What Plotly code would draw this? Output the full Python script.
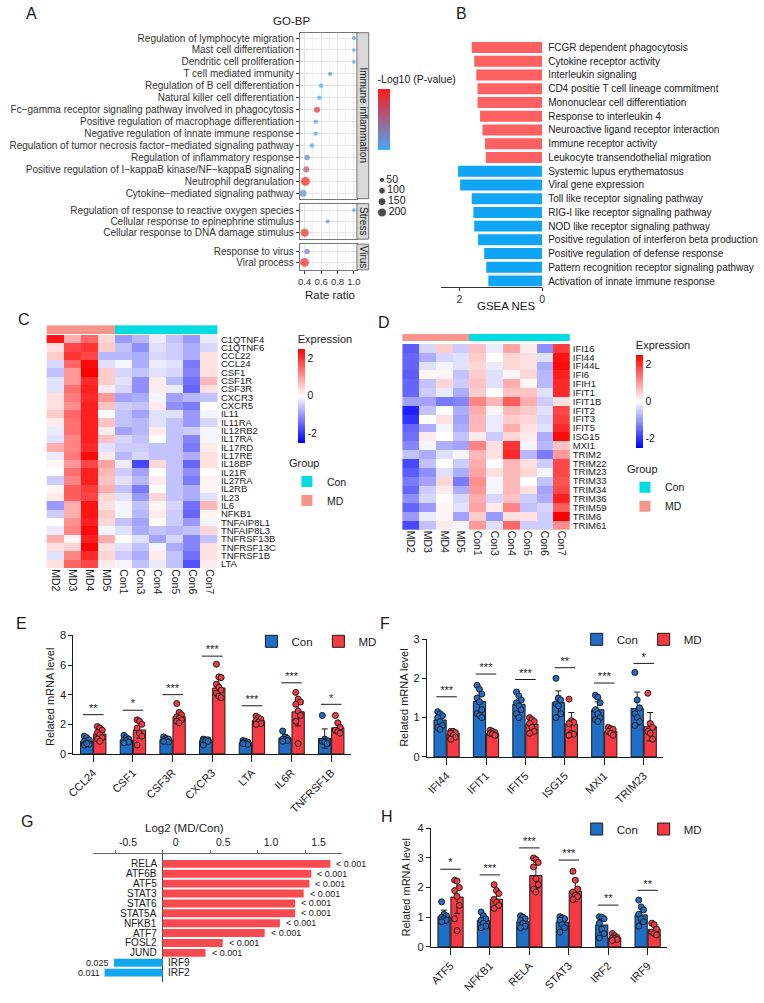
import plotly.graph_objects as go
import numpy as np

W, H = 764, 1003
FONT = "Liberation Sans, Arial, Helvetica, sans-serif"
INK = "#1a1a1a"


def xd(a, b):
    return [a / W, b / W]


def yd(top, bottom):
    return [1 - bottom / H, 1 - top / H]


def px(x):
    return x / W


def py(y):
    return 1 - y / H


# ======================= DATA =======================
# ---- A : GO-BP dot plot ----
a_terms = [
    "Regulation of lymphocyte migration",
    "Mast cell differentiation",
    "Dendritic cell proliferation",
    "T cell mediated immunity",
    "Regulation of B cell differentiation",
    "Natural killer cell differentiation",
    "Fc\u2212gamma receptor signaling pathway involved in phagocytosis",
    "Positive regulation of macrophage differentiation",
    "Negative regulation of innate immune response",
    "Regulation of tumor necrosis factor\u2212mediated signaling pathway",
    "Regulation of inflammatory response",
    "Positive regulation of I\u2212kappaB kinase/NF\u2212kappaB signaling",
    "Neutrophil degranulation",
    "Cytokine\u2212mediated signaling pathway",
    "Regulation of response to reactive oxygen species",
    "Cellular response to epinephrine stimulus",
    "Cellular response to DNA damage stimulus",
    "Response to virus",
    "Viral process",
]
a_group = ["Immune inflammation"] * 14 + ["Stress"] * 3 + ["Virus"] * 2
a_ratio = [1.0, 1.0, 1.0, 0.71, 0.60, 0.58, 0.55, 0.535, 0.535, 0.49, 0.43, 0.42, 0.41, 0.38,
           1.0, 0.68, 0.40, 0.43, 0.40]
a_logp = [2.6, 2.1, 2.1, 2.4, 1.5, 1.65, 8.25, 1.5, 1.5, 1.9, 3.15, 6.0, 9.0, 3.0,
          2.25, 2.85, 8.1, 3.6, 8.6]
a_count = [20, 18, 18, 28, 30, 30, 75, 30, 30, 35, 60, 75, 190, 110,
           15, 22, 150, 60, 190]
a_size_legend = [50, 100, 150, 200]

# ---- B : GSEA NES ----
b_terms = [
    "FCGR dependent phagocytosis",
    "Cytokine receptor activity",
    "Interleukin signaling",
    "CD4 positie T cell lineage commitment",
    "Mononuclear cell differentiation",
    "Response to interleukin 4",
    "Neuroactive ligand receptor interaction",
    "Immune receptor activity",
    "Leukocyte transendothelial migration",
    "Systemic lupus erythematosus",
    "Viral gene expression",
    "Toll like receptor signaling pathway",
    "RIG-I like receptor signaling pathway",
    "NOD like receptor signaling pathway",
    "Positive regulation of interferon beta production",
    "Positive regulation of defense response",
    "Pattern recognition receptor signaling pathway",
    "Activation of innate immune response",
]
b_nes = [1.70, 1.64, 1.59, 1.56, 1.56, 1.50, 1.44, 1.38, 1.36,
         2.03, 1.98, 1.70, 1.66, 1.64, 1.55, 1.40, 1.35, 1.30]
b_dir = ["up"] * 9 + ["down"] * 9

# ---- C / D : heatmaps ----
samples = ["MD2", "MD3", "MD4", "MD5", "Con1", "Con3", "Con4", "Con5", "Con6", "Con7"]
c_genes = ["C1QTNF4", "C1QTNF6", "CCL22", "CCL24", "CSF1", "CSF1R", "CSF3R", "CXCR3", "CXCR5",
           "IL11", "IL11RA", "IL12RB2", "IL17RA", "IL17RD", "IL17RE", "IL18BP", "IL21R", "IL27RA",
           "IL2RB", "IL23", "IL6", "NFKB1", "TNFAIP8L1", "TNFAIP8L3", "TNFRSF13B", "TNFRSF13C",
           "TNFRSF1B", "LTA"]
c_z = [
    [2.3, 0.8, 1.5, 0.4, -1.0, -0.7, -0.2, -0.6, -1.0, -0.2],
    [0.3, 1.8, 2.0, 0.5, -0.6, -1.1, -0.3, -0.5, -0.8, -0.4],
    [0.5, 2.0, 1.8, -0.7, -0.7, -0.8, -0.4, -0.5, -0.8, 0.3],
    [-0.4, 1.5, 2.4, -0.3, -0.1, -0.8, -0.2, -0.3, -1.3, 0.3],
    [-0.6, 1.0, 2.5, 0.5, -0.4, -0.6, -0.3, -0.4, -1.2, 0.3],
    [-0.3, 1.0, 2.1, 0.5, -0.3, -1.1, 0.2, -0.7, -1.4, 0.7],
    [-0.3, 1.4, 2.2, 0.2, -0.4, -1.1, 0.2, -0.2, -1.5, 0.3],
    [0.3, 1.3, 2.1, 1.0, -0.9, -0.8, -0.1, -0.9, -0.7, -0.6],
    [0.3, 1.1, 2.2, 0.6, -0.5, -0.6, 0.2, -1.1, -1.3, 0.0],
    [0.5, 1.5, 2.2, 0.0, -0.6, -0.9, -0.3, -0.3, -1.0, -0.1],
    [0.2, 1.4, 2.2, 0.6, -0.6, -0.7, -0.3, -0.6, -1.0, -0.4],
    [-0.2, 1.4, 2.2, 0.2, -0.9, -0.7, 0.2, -0.6, -0.5, -0.1],
    [-0.3, 1.2, 2.2, 0.6, -0.4, -0.6, 0.0, -0.6, -1.2, -0.1],
    [0.8, 1.2, 2.1, -0.3, -0.5, -0.5, -0.6, -0.6, -1.3, 0.2],
    [-0.2, 1.3, 2.4, 0.2, -0.7, -0.4, -0.6, -0.6, -0.8, 0.3],
    [0.1, 1.0, 1.8, 0.9, -0.2, -1.8, 0.4, -0.6, -1.5, 0.3],
    [0.0, 1.4, 2.2, 0.7, -0.5, -0.9, 0.0, -0.6, -1.1, 0.0],
    [-0.5, 1.2, 2.2, 0.6, -0.3, -0.7, 0.2, -0.6, -1.3, 0.1],
    [0.1, 1.6, 1.9, 0.8, -0.6, -1.3, 0.0, -0.6, -0.8, 0.1],
    [0.2, 1.6, 1.8, 0.4, -0.3, -1.0, 0.4, -0.6, -0.8, -0.3],
    [-1.0, 0.8, 2.3, 0.3, -0.1, -0.6, 0.1, -0.4, -1.4, 0.7],
    [-0.5, 0.8, 2.3, 0.5, -0.1, -0.7, 0.2, -0.5, -1.5, 0.1],
    [0.0, 1.1, 2.2, 0.4, -0.6, -0.9, 0.0, -0.5, -1.0, -0.1],
    [-0.2, 1.2, 2.4, -0.1, -0.3, -0.8, -0.6, -0.7, -0.6, 0.4],
    [0.8, 0.1, 2.2, 0.8, 0.0, -0.3, -0.9, -0.4, -1.2, -0.6],
    [0.3, 0.4, 2.5, 0.3, -0.3, -0.6, -0.1, -0.8, -1.2, 0.3],
    [-0.3, 1.2, 2.1, 0.4, -0.5, -0.8, 0.2, -0.6, -1.4, 0.3],
    [0.3, 1.5, 1.8, 0.2, -0.1, -0.6, -0.2, -0.6, -1.7, 0.2],
]
d_genes = ["IFI16", "IFI44", "IFI44L", "IFI6", "IFIH1", "IFIT1", "IFIT1B", "IFIT2", "IFIT3",
           "IFIT5", "ISG15", "MXI1", "TRIM2", "TRIM22", "TRIM23", "TRIM33", "TRIM34", "TRIM36",
           "TRIM59", "TRIM6", "TRIM61"]
d_z = [
    [-1.6, -0.4, 0.5, -0.5, 0.6, -0.2, 0.9, 0.2, -1.1, 1.9],
    [-1.5, -0.8, -0.4, -0.3, 0.5, 0.0, 0.4, 0.3, -0.3, 2.3],
    [-1.5, -0.3, -0.1, -0.3, 0.4, -0.2, 0.4, 0.3, -0.8, 2.4],
    [-1.6, 0.1, 0.1, -0.6, 0.5, -0.3, 0.1, 0.4, -0.7, 2.2],
    [-1.5, -0.6, 0.4, -0.5, 0.6, -0.3, 0.8, 0.1, -0.7, 2.1],
    [-1.5, -0.5, -0.2, -0.8, 0.5, 0.0, 0.6, 0.6, -0.3, 2.1],
    [-0.9, -0.9, -1.3, -1.2, 1.2, 0.7, 1.6, 0.8, -0.5, 0.3],
    [-2.2, -0.6, 0.0, -0.8, 0.8, 0.1, 0.7, 0.5, -0.3, 1.8],
    [-2.0, 0.0, 0.3, -0.9, 0.7, -0.2, 0.5, 0.4, -0.4, 1.9],
    [-1.5, -0.8, -0.1, -0.8, 0.7, -0.2, 0.8, 0.3, -0.3, 2.1],
    [-1.4, 0.2, 0.0, -0.6, 0.2, -0.5, 0.4, 0.2, -0.8, 2.4],
    [-1.2, -0.1, -0.8, -0.9, 1.2, 0.3, 2.0, -0.1, -0.7, 0.6],
    [-0.6, -0.8, -0.3, -0.1, 0.7, 0.3, 2.1, -0.7, -1.3, 1.0],
    [-1.8, -0.6, 0.0, -0.5, 0.8, 0.0, 0.7, 0.3, -0.5, 1.8],
    [-1.6, -1.1, -0.3, -0.8, 0.9, 0.3, 0.7, 0.4, -0.1, 1.8],
    [-1.3, -0.9, 0.4, -1.3, 1.1, -0.1, 0.7, 0.0, -0.6, 1.7],
    [-1.5, -0.5, 0.2, -0.8, 1.0, -0.1, 0.7, 0.3, -0.9, 1.8],
    [-1.1, -0.4, 0.0, -0.4, 0.8, -0.4, 0.6, -0.5, -0.8, 2.2],
    [-1.5, -1.0, 0.1, -0.3, 0.9, 0.2, 1.2, -0.6, -0.4, 1.6],
    [-1.0, -0.2, 0.1, -0.9, 0.5, -1.0, 0.3, 0.3, -0.5, 2.5],
    [-1.8, -0.6, 0.2, -0.1, 1.0, -0.3, 1.5, -0.5, -0.5, 1.1],
]

# ---- E : qPCR cytokine genes ----
e_genes = ["CCL24", "CSF1", "CSF3R", "CXCR3", "LTA", "IL6R", "TNFRSF1B"]
e_con_mean = [0.87, 0.93, 0.96, 0.90, 0.76, 1.07, 1.04]
e_con_sd = [0.20, 0.15, 0.12, 0.10, 0.12, 0.22, 0.65]
e_md_mean = [1.35, 1.62, 2.51, 4.45, 2.24, 2.84, 1.76]
e_md_sd = [0.35, 0.55, 0.35, 0.70, 0.20, 0.95, 0.35]
e_con_pts = [[1.2, 1.1, 0.95, 0.85, 0.75, 0.65, 0.6, 0.7],
             [1.25, 1.1, 1.0, 0.95, 0.9, 0.8, 0.75],
             [1.15, 1.05, 1.0, 0.95, 0.9, 0.8, 0.85],
             [1.0, 0.95, 0.95, 0.9, 0.9, 0.85, 0.6],
             [0.9, 0.85, 0.8, 0.75, 0.7, 0.65, 0.7],
             [1.55, 1.15, 1.05, 1.0, 0.95, 0.9, 0.85],
             [2.6, 1.0, 0.9, 0.85, 0.8, 0.7]]
e_md_pts = [[1.85, 1.75, 1.6, 1.45, 1.3, 1.1, 1.0, 0.85],
            [2.3, 2.2, 2.0, 1.75, 1.4, 1.2, 0.6],
            [3.4, 2.8, 2.65, 2.5, 2.4, 2.3, 2.2, 2.1],
            [6.05, 5.2, 5.15, 4.7, 4.5, 4.3, 4.1, 3.9, 3.8],
            [2.55, 2.45, 2.35, 2.25, 2.15, 2.05, 2.0],
            [4.15, 3.7, 3.5, 3.35, 2.9, 2.6, 2.2, 0.7],
            [2.6, 2.1, 1.8, 1.6, 1.5, 1.4]]
e_sig = ["**", "*", "***", "***", "***", "***", "*"]
e_sig_y = [2.65, 2.95, 4.0, 6.6, 3.25, 4.8, 3.35]

# ---- F : qPCR interferon genes ----
f_genes = ["IFI44", "IFIT1", "IFIT5", "ISG15", "MXI1", "TRIM23"]
f_con_mean = [0.94, 1.41, 1.34, 1.38, 1.20, 1.23]
f_con_sd = [0.15, 0.30, 0.20, 0.30, 0.20, 0.42]
f_md_mean = [0.60, 0.60, 0.83, 0.83, 0.65, 0.77]
f_md_sd = [0.08, 0.05, 0.12, 0.30, 0.07, 0.36]
f_con_pts = [[1.15, 1.1, 1.05, 1.0, 0.9, 0.8, 0.75, 0.7],
             [1.82, 1.72, 1.6, 1.5, 1.4, 1.2, 1.1, 1.05, 1.0],
             [1.65, 1.55, 1.45, 1.38, 1.3, 1.2, 1.1, 1.0],
             [2.0, 1.5, 1.45, 1.35, 1.3, 1.1, 1.0],
             [1.57, 1.52, 1.38, 1.2, 1.1, 1.0, 0.95, 0.9],
             [2.15, 1.45, 1.25, 1.1, 1.0, 0.9, 0.8]]
f_md_pts = [[0.65, 0.65, 0.62, 0.6, 0.55, 0.5, 0.45],
            [0.68, 0.65, 0.62, 0.6, 0.58, 0.55],
            [1.0, 0.95, 0.9, 0.85, 0.75, 0.65, 0.6],
            [1.47, 0.92, 0.88, 0.85, 0.6, 0.58, 0.55],
            [0.75, 0.72, 0.7, 0.65, 0.6, 0.55],
            [1.62, 0.85, 0.75, 0.65, 0.6, 0.45]]
f_sig = ["***", "***", "***", "**", "***", "*"]
f_sig_y = [1.53, 2.11, 1.97, 2.27, 1.88, 2.38]

# ---- G : Log2 fold change of TFs ----
g_genes = ["RELA", "ATF6B", "ATF5", "STAT3", "STAT6", "STAT5A", "NFKB1", "ATF7", "FOSL2",
           "JUND", "IRF9", "IRF2"]
g_log2 = [1.76, 1.56, 1.54, 1.48, 1.39, 1.39, 1.23, 1.07, 0.63, 0.45, -0.51, -0.61]
g_p = ["< 0.001"] * 10 + ["0.025", "0.011"]

# ---- H : qPCR TFs ----
h_genes = ["ATF5", "NFKB1", "RELA", "STAT3", "IRF2", "IRF9"]
h_con_mean = [1.02, 0.89, 0.85, 0.84, 0.74, 1.08]
h_con_sd = [0.22, 0.15, 0.10, 0.12, 0.25, 0.25]
h_md_mean = [1.68, 1.61, 2.41, 1.88, 0.30, 0.59]
h_md_sd = [0.55, 0.30, 0.45, 0.35, 0.08, 0.15]
h_con_pts = [[1.52, 1.1, 1.05, 1.0, 0.95, 0.9, 0.85],
             [1.18, 1.05, 0.95, 0.9, 0.8, 0.7, 0.65],
             [1.05, 1.0, 0.95, 0.9, 0.8, 0.7, 0.65],
             [1.02, 0.98, 0.95, 0.9, 0.75, 0.65, 0.5],
             [1.02, 1.0, 0.95, 0.8, 0.6, 0.45, 0.3],
             [1.58, 1.35, 1.25, 1.1, 0.95, 0.85, 0.7]]
h_md_pts = [[2.25, 2.22, 2.0, 1.9, 1.7, 1.4, 0.95, 0.55],
            [2.1, 1.9, 1.8, 1.6, 1.5, 1.4, 1.3],
            [3.0, 2.95, 2.85, 2.7, 2.3, 2.1, 1.95, 1.85],
            [2.55, 2.25, 1.95, 1.85, 1.75, 1.7, 1.6],
            [0.45, 0.38, 0.32, 0.3, 0.28, 0.25, 0.22],
            [0.8, 0.75, 0.6, 0.5, 0.45, 0.4]]
h_sig = ["*", "***", "***", "***", "**", "**"]
h_sig_y = [2.62, 2.43, 3.34, 2.93, 1.41, 1.91]

# ======================= STYLE =======================
CON_C = "#1f6fc6"
MD_C = "#f73942"
GRP_COL = {"Con": "#00dce1", "MD": "#f9948b"}
HEAT_SCALE = [[0, "#0000ff"], [0.5, "#ffffff"], [1, "#ff0000"]]

fig = go.Figure()
layout = {}
annotations = []
shapes = []

# ======================= PANEL A =======================
facets = ["Immune inflammation", "Stress", "Virus"]
facet_dom = {"Immune inflammation": (27, 195, [13.45, -0.45]),
             "Stress": (200, 236, [2.58, -0.58]),
             "Virus": (241, 267, [1.68, -0.68])}


def dot_size(c):
    return 1.5 + 0.53 * np.sqrt(c)


for k, f in enumerate(facets):
    ids = [i for i, g in enumerate(a_group) if g == f]
    terms = [a_terms[i] for i in ids]
    n = k + 1
    fig.add_trace(go.Scatter(
        x=[a_ratio[i] for i in ids], y=terms, mode="markers",
        marker=dict(size=[dot_size(a_count[i]) for i in ids],
                    color=[a_logp[i] for i in ids], coloraxis="coloraxis",
                    line=dict(width=0)),
        xaxis=f"x{n}", yaxis=f"y{n}", showlegend=False, hoverinfo="skip"))
    top, bot, rng = facet_dom[f]
    layout[f"xaxis{n}"] = dict(
        domain=xd(297, 355), range=[0.34, 1.036], anchor=f"y{n}",
        tickvals=[0.4, 0.6, 0.8, 1.0], ticktext=["0.4", "0.6", "0.8", "1.0"], tickangle=0,
        showticklabels=(f == "Virus"), ticks="outside" if f == "Virus" else "",
        ticklen=3, tickcolor="#333", tickfont=dict(size=9.5, color="#333"),
        showgrid=True, gridcolor="#e6e6e6", gridwidth=0.8,
        minor=dict(tickvals=[0.5, 0.7, 0.9], showgrid=True, gridcolor="#f3f3f3", gridwidth=0.5),
        showline=True, mirror=True, linecolor="#777", linewidth=0.8, zeroline=False)
    layout[f"yaxis{n}"] = dict(
        domain=yd(top, bot), anchor=f"x{n}", type="category",
        categoryorder="array", categoryarray=terms, range=rng,
        tickmode="array", tickvals=terms, ticktext=terms,
        ticks="outside", ticklen=3, tickcolor="#333", tickfont=dict(size=10, color="#333"),
        showgrid=True, gridcolor="#e6e6e6", gridwidth=0.8,
        showline=True, mirror=True, linecolor="#777", linewidth=0.8)
    shapes.append(dict(type="rect", xref="paper", yref="paper", x0=px(355), x1=px(367),
                       y0=py(bot), y1=py(top), fillcolor="#d9d9d9",
                       line=dict(color="#555", width=0.8)))
    annotations.append(dict(text=f, x=px(361.5), y=py((top + bot) / 2), xref="paper", yref="paper",
                            showarrow=False, textangle=90, font=dict(size=10, color=INK)))

layout["coloraxis"] = dict(
    colorscale=[[0, "#45a8f7"], [1, "#ff1a1a"]], cmin=1.5, cmax=9,
    colorbar=dict(x=px(376), xanchor="left", y=py(146), yanchor="bottom", len=79 / H,
                  lenmode="fraction", thickness=12, xpad=0, ypad=0, outlinewidth=0,
                  showticklabels=False, ticks="",
                  title=dict(text="-Log10 (P-value)", side="top", font=dict(size=10.5, color=INK))))

# size legend
fig.add_trace(go.Scatter(
    x=[0] * len(a_size_legend), y=[str(s) for s in a_size_legend], mode="markers+text",
    text=[str(s) for s in a_size_legend], textposition="middle right",
    textfont=dict(size=10.5, color=INK),
    marker=dict(size=[dot_size(s) for s in a_size_legend], color="black"),
    xaxis="x4", yaxis="y4", showlegend=False, hoverinfo="skip", cliponaxis=False))
layout["xaxis4"] = dict(domain=xd(378, 398), range=[-0.5, 3.5], visible=False, anchor="y4")
layout["yaxis4"] = dict(domain=yd(170.5, 214.5), range=[3.5, -0.5], visible=False, anchor="x4",
                        type="category")

annotations += [
    dict(text="GO-BP", x=px(289), y=py(15), font=dict(size=11.5, color=INK)),
    dict(text="Rate ratio", x=px(328), y=py(292), font=dict(size=11.5, color=INK)),
]

# ======================= PANEL B =======================
fig.add_trace(go.Bar(
    x=b_nes, y=b_terms, orientation="h", width=0.8,
    marker=dict(color=["#ff6163" if d == "up" else "#10a5f5" for d in b_dir], line=dict(width=0)),
    xaxis="x5", yaxis="y5", showlegend=False, hoverinfo="skip"))
layout["xaxis5"] = dict(domain=xd(440, 543), range=[2.45, 0], anchor="y5",
                        tickvals=[2, 0], ticks="outside", ticklen=3, tickcolor="#333",
                        tickfont=dict(size=10.5, color="#333"), showline=True, linecolor="#333",
                        linewidth=0.8, showgrid=False, zeroline=False)
layout["yaxis5"] = dict(domain=yd(35, 284), range=[17.4, -0.5], anchor="x5", side="right",
                        type="category", categoryorder="array", categoryarray=b_terms,
                        tickmode="array", tickvals=b_terms, ticktext=b_terms,
                        ticks="", tickfont=dict(size=10, color=INK), showgrid=False,
                        showline=False, ticklabelstandoff=5)
annotations.append(dict(text="GSEA NES", x=px(506), y=py(304), font=dict(size=11.5, color=INK)))

# ======================= PANELS C & D =======================
groups = ["MD" if s.startswith("MD") else "Con" for s in samples]
grp_code = [1 if g == "MD" else 0 for g in groups]


def heat_panel(nh, nb, genes, z, xdom, ydom_heat, ydom_bar, cax, leg):
    fig.add_trace(go.Heatmap(z=z, x=samples, y=genes, coloraxis=cax,
                             xaxis=f"x{nh}", yaxis=f"y{nh}", hoverinfo="skip"))
    fig.add_trace(go.Heatmap(z=[grp_code], x=samples, y=["Group"],
                             colorscale=[[0, GRP_COL["Con"]], [1, GRP_COL["MD"]]],
                             zmin=0, zmax=1, showscale=False,
                             xaxis=f"x{nb}", yaxis=f"y{nb}", hoverinfo="skip"))
    for g in ["Con", "MD"]:
        fig.add_trace(go.Scatter(x=[None], y=[None], mode="markers", name=g,
                                 marker=dict(symbol="square", size=11, color=GRP_COL[g]),
                                 xaxis=f"x{nb}", yaxis=f"y{nb}", legend=leg, showlegend=True))
    layout[f"xaxis{nh}"] = dict(domain=xdom, anchor=f"y{nh}", tickangle=90, ticks="",
                                tickmode="array", tickvals=samples, ticktext=samples,
                                tickfont=dict(size=10.5, color=INK), showgrid=False,
                                showline=False, zeroline=False)
    layout[f"yaxis{nh}"] = dict(domain=ydom_heat, anchor=f"x{nh}", side="right",
                                autorange="reversed", ticks="",
                                tickmode="array", tickvals=genes, ticktext=genes,
                                tickfont=dict(size=9.5, color=INK),
                                showgrid=False, ticklabelstandoff=2)
    layout[f"xaxis{nb}"] = dict(domain=xdom, anchor=f"y{nb}", matches=f"x{nh}", visible=False)
    layout[f"yaxis{nb}"] = dict(domain=ydom_bar, anchor=f"x{nb}", visible=False)


heat_panel(6, 7, c_genes, c_z, xd(40, 214), yd(333, 569), yd(323, 332), "coloraxis2", "legend")
heat_panel(8, 9, d_genes, d_z, xd(401, 571), yd(342, 530), yd(332, 339), "coloraxis3", "legend2")

for name, x0, ytop, ybot in [("coloraxis2", 295, 351, 442), ("coloraxis3", 638, 357, 447)]:
    layout[name] = dict(
        colorscale=HEAT_SCALE, cmin=-2.5, cmax=2.5,
        colorbar=dict(x=px(x0), xanchor="left", y=py(ybot), yanchor="bottom",
                      len=(ybot - ytop + 21) / H, lenmode="fraction", thickness=7, xpad=0, ypad=0,
                      outlinewidth=0, tickvals=[-2, 0, 2], ticktext=["-2", "0", "2"], ticks="",
                      tickfont=dict(size=10.5, color=INK),
                      title=dict(text="Expression", side="top", font=dict(size=11, color=INK))))

for leg, x0, y0 in [("legend", 284, 452), ("legend2", 627, 458)]:
    layout[leg] = dict(x=px(x0), y=py(y0), xanchor="left", yanchor="top",
                       bgcolor="rgba(0,0,0,0)", font=dict(size=10.5, color=INK),
                       title=dict(text="Group", font=dict(size=11, color=INK)),
                       tracegroupgap=0, itemwidth=30)

# ======================= BAR PANELS E / F / H =======================
OFF, BW = 0.165, 0.31
SPREAD = [-0.06, 0.0, 0.06]


def bar_panel(n, genes, con_mean, con_sd, md_mean, md_sd, con_pts, md_pts, sig, sig_y, leg,
              xdom, ydom, yrng, ytick, leg_xy):
    xa, ya = f"x{n}", f"y{n}"
    idx = np.arange(len(genes))
    specs = [("Con", con_mean, con_sd, con_pts, CON_C, -1),
             ("MD", md_mean, md_sd, md_pts, MD_C, 1)]
    for name, mean, sd, pts, col, sgn in specs:
        fig.add_trace(go.Bar(
            x=idx + sgn * OFF, y=mean, width=BW, name=name,
            marker=dict(color=col, line=dict(color=INK, width=1)),
            error_y=dict(type="data", array=sd, visible=True, color=INK, thickness=1, width=3),
            xaxis=xa, yaxis=ya, legend=leg, showlegend=True, hoverinfo="skip"))
    for name, mean, sd, pts, col, sgn in specs:
        dx, dy = [], []
        for i, p in enumerate(pts):
            for j, v in enumerate(p):
                dx.append(i + sgn * OFF + SPREAD[j % 3])
                dy.append(v)
        fig.add_trace(go.Scatter(x=dx, y=dy, mode="markers",
                                 marker=dict(size=6, color=col, line=dict(color=INK, width=1)),
                                 xaxis=xa, yaxis=ya, showlegend=False, hoverinfo="skip",
                                 cliponaxis=False))
    lx, ly = [], []
    for i, h in enumerate(sig_y):
        lx += [i - 0.26, i + 0.26, None]
        ly += [h, h, None]
    fig.add_trace(go.Scatter(x=lx, y=ly, mode="lines", line=dict(color=INK, width=1),
                             xaxis=xa, yaxis=ya, showlegend=False, hoverinfo="skip",
                             cliponaxis=False))
    fig.add_trace(go.Scatter(x=idx, y=sig_y, mode="text", text=sig, textposition="top center",
                             textfont=dict(size=11, color=INK), xaxis=xa, yaxis=ya,
                             showlegend=False, hoverinfo="skip", cliponaxis=False))
    layout[f"xaxis{n}"] = dict(domain=xdom, range=[-0.5, len(genes) - 0.5], anchor=ya,
                               tickvals=list(idx), ticktext=genes, tickangle=-45,
                               ticks="outside", ticklen=7, tickwidth=1, tickcolor=INK,
                               tickfont=dict(size=11, color=INK), showline=True,
                               linecolor=INK, linewidth=1.2, showgrid=False, zeroline=False)
    layout[f"yaxis{n}"] = dict(domain=ydom, range=yrng, anchor=xa, dtick=ytick,
                               ticks="outside", ticklen=4, tickwidth=1.2, tickcolor=INK,
                               tickfont=dict(size=11, color=INK), showline=True,
                               linecolor=INK, linewidth=1.2, showgrid=False, zeroline=False)
    layout[leg] = dict(orientation="h", x=px(leg_xy[0]), y=py(leg_xy[1]), xanchor="left",
                       yanchor="middle", bgcolor="rgba(0,0,0,0)", font=dict(size=11.5, color=INK),
                       itemwidth=30, traceorder="normal", entrywidth=22, entrywidthmode="pixels")


bar_panel(10, e_genes, e_con_mean, e_con_sd, e_md_mean, e_md_sd, e_con_pts, e_md_pts, e_sig,
          e_sig_y, "legend3", xd(67.4, 349.1), yd(637, 757), [0, 8], 2, (248, 643))
bar_panel(11, f_genes, f_con_mean, f_con_sd, f_md_mean, f_md_sd, f_con_pts, f_md_pts, f_sig,
          f_sig_y, "legend4", xd(426, 666), yd(640.7, 760), [0, 3], 1, (578, 641))
bar_panel(13, h_genes, h_con_mean, h_con_sd, h_md_mean, h_md_sd, h_con_pts, h_md_pts, h_sig,
          h_sig_y, "legend5", xd(430, 670), yd(832.3, 952.3), [0, 4], 1, (578, 833))

for x0, y0 in [(43, 699), (402, 700), (405, 892)]:
    annotations.append(dict(text="Related mRNA level", x=px(x0), y=py(y0), textangle=-90,
                            font=dict(size=11, color=INK)))

# ======================= PANEL G =======================
fig.add_trace(go.Bar(
    x=g_log2, y=g_genes, orientation="h", width=0.8,
    marker=dict(color=["#f84a4f" if v > 0 else "#12a5f0" for v in g_log2], line=dict(width=0)),
    xaxis="x12", yaxis="y12", showlegend=False, hoverinfo="skip"))
for gname, v, p in zip(g_genes, g_log2, g_p):
    annotations.append(dict(text=gname, x=0, y=gname, xref="x12", yref="y12",
                            xanchor="right" if v > 0 else "left", xshift=-4 if v > 0 else 3,
                            font=dict(size=10, color=INK)))
    annotations.append(dict(text=p, x=v, y=gname, xref="x12", yref="y12",
                            xanchor="left" if v > 0 else "right", xshift=4 if v > 0 else -3,
                            font=dict(size=9, color=INK)))
layout["xaxis12"] = dict(domain=xd(87, 340), range=[-0.734, 1.883], anchor="y12", side="top",
                         tickvals=[-0.5, 0, 0.5, 1.0, 1.5], ticktext=["-0.5", "0", "0.5", "1.0", "1.5"],
                         ticks="outside", ticklen=3, tickcolor="#666",
                         tickfont=dict(size=10.5, color=INK), ticklabelshift=13,
                         showline=True, linecolor="#666", linewidth=1, showgrid=False,
                         zeroline=True, zerolinecolor="#444", zerolinewidth=1)
layout["yaxis12"] = dict(domain=yd(858, 988), range=[11.97, -1.03], anchor="x12", type="category",
                         categoryorder="array", categoryarray=g_genes, visible=False)
annotations.append(dict(text="Log2 (MD/Con)", x=px(180), y=py(832), font=dict(size=11.5, color=INK)))

# ======================= PANEL LETTERS =======================
for t, x0, y0 in [("A", 25, 8), ("B", 461, 8), ("C", 17, 317), ("D", 383, 320),
                  ("E", 15, 625), ("F", 384, 625), ("G", 20, 825), ("H", 386, 820)]:
    annotations.append(dict(text=t, x=px(x0), y=py(y0), font=dict(size=16, color=INK)))

for a in annotations:
    a.setdefault("xref", "paper")
    a.setdefault("yref", "paper")
    a.setdefault("showarrow", False)
    a.setdefault("xanchor", "center")
    a.setdefault("yanchor", "middle")

layout.update(dict(width=W, height=H, margin=dict(l=0, r=0, t=0, b=0),
                   paper_bgcolor="white", plot_bgcolor="white",
                   font=dict(family=FONT, size=10, color=INK), barmode="overlay",
                   annotations=annotations, shapes=shapes, showlegend=True))
fig.update_layout(**layout)
fig.write_html("out.html")
